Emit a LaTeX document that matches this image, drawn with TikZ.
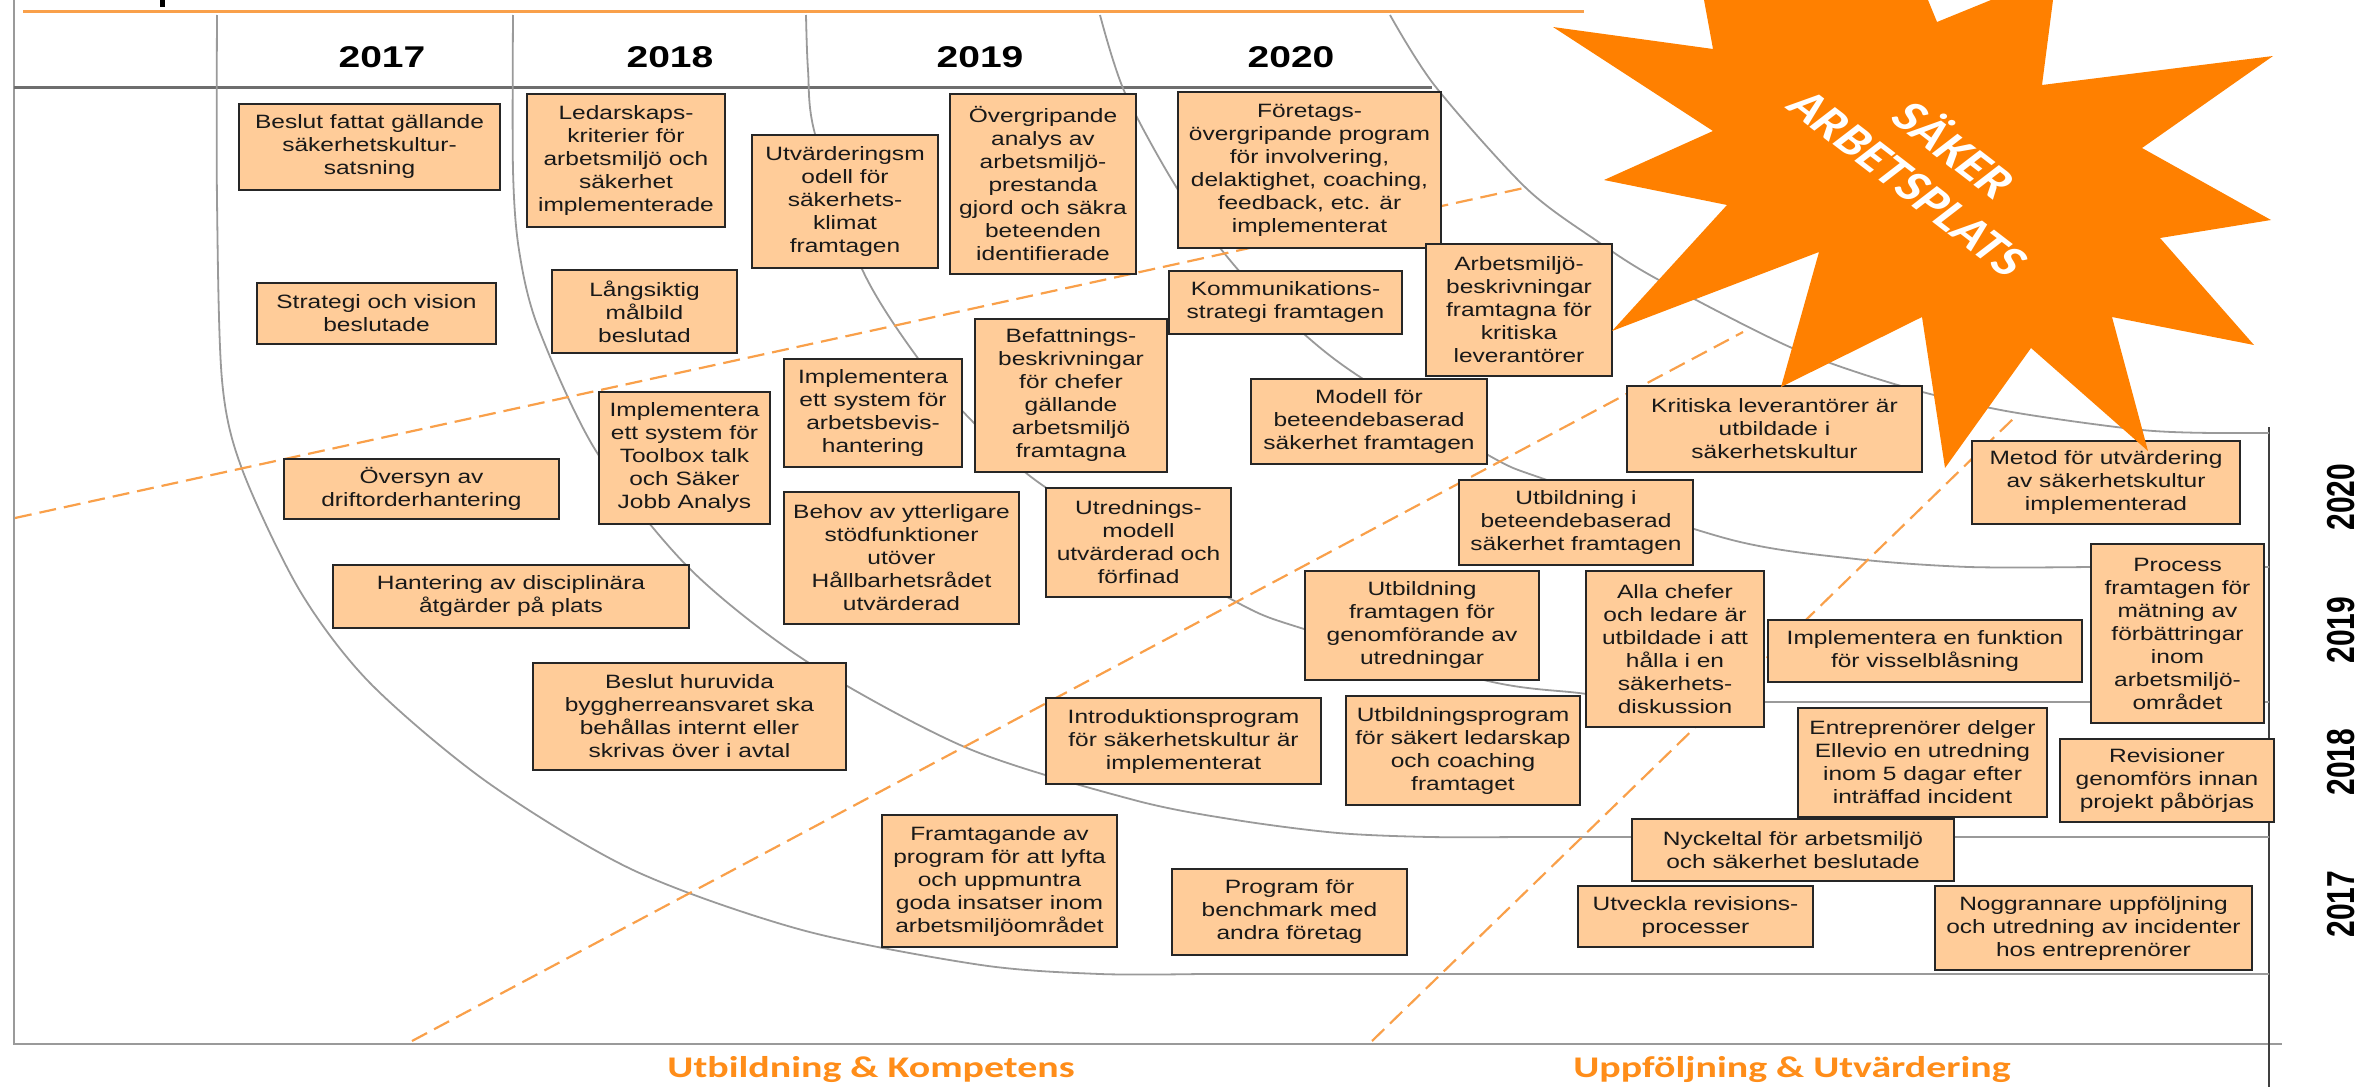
\documentclass[tikz,border=0pt]{standalone}
\usepackage{fontspec}
\setmainfont{Liberation Sans}
\newfontfamily\boxfont[FakeStretch=1.27]{Liberation Sans}
\newfontfamily\yearfont[FakeStretch=1.3]{Liberation Sans}
\newfontfamily\labfont[FakeStretch=1.33]{Carlito}
\newfontfamily\starfont{Carlito}
\definecolor{boxfill}{HTML}{FFCC99}
\definecolor{starorange}{HTML}{FF8000}
\definecolor{dashorange}{HTML}{F9A04A}
\definecolor{arcgrey}{HTML}{9A9A9A}
\definecolor{axisgrey}{HTML}{6E6E6E}
\tikzset{
  bx/.style={draw=black!85,fill=boxfill,line width=1.8pt,inner sep=0pt,align=center,text=black!90,
    font=\boxfont\fontsize{19.3}{23}\selectfont},
  arcline/.style={draw=arcgrey,line width=1.8pt},
  dashline/.style={draw=dashorange,line width=2.2pt,dash pattern=on 17pt off 8pt},
  yeartop/.style={font=\yearfont\bfseries\fontsize{30}{32}\selectfont,inner sep=0pt},
  yearside/.style={font=\bfseries\fontsize{30}{32}\selectfont,inner sep=0pt},
  bottomlab/.style={font=\labfont\bfseries\fontsize{30}{32}\selectfont,text=starorange!90!white,inner sep=0pt},
  startext/.style={font=\starfont\bfseries\fontsize{43}{45}\selectfont,text=white,inner sep=0pt},
}
\newcommand\bx[6]{\node[bx,minimum width={(#4-#2)*1pt},minimum height={(#5-#3)*1pt}] (#1) at ({(#2+#4)/2},{(#3+#5)/2}) {#6};}
\begin{document}
\begin{tikzpicture}[x=1pt,y=-1pt]
\useasboundingbox (0,0) rectangle (2358,1087);
% frame
\draw[draw=arcgrey,line width=2pt] (14,0) -- (14,1044) -- (2282,1044);
\draw[draw=black!75,line width=2pt] (2269,427) -- (2269,1087);
\draw[draw=axisgrey,line width=3pt] (14,87) -- (1432,87);
\draw[draw=dashorange,line width=3pt] (23,11) -- (1584,11);
\fill[black] (160,0) rectangle (165,7);
% arcs
\draw[arcline] plot[smooth] coordinates {(217,15) (217,200) (222,380) (242,469) (300,591) (370,683) (487,782) (633,870) (802,930) (981,965) (1100,974) (1200,974)} -- (2269,974);
\draw[arcline] plot[smooth] coordinates {(513,15) (513,170) (519,250) (538,327) (596,451) (689,568) (806,661) (967,748) (1134,800) (1236,820) (1338,833) (1430,837) (1520,837)} -- (2269,837);
\draw[arcline] plot[smooth] coordinates {(806,15) (808,70) (815,134) (862,269) (917,357) (973,422) (1045,487) (1229,598) (1304,629) (1488,681) (1579,693) (1660,702) (1740,702)} -- (2269,702);
\draw[arcline] plot[smooth] coordinates {(1100,15) (1125,93) (1180,193) (1240,272) (1304,334) (1360,377) (1488,455) (1544,479) (1732,540) (1856,559) (1969,567) (2089,567)} -- (2269,567);
\draw[arcline] plot[smooth] coordinates {(1390,15) (1435,86) (1526,188) (1597,241) (1657,279) (1792,348) (1901,386) (2006,411) (2142,430) (2220,433)} -- (2269,433);
% dashed
\draw[dashline] (15,518) -- (1524,188);
\draw[dashline] (412,1041) -- (1743,332);
\draw[dashline] (1372,1041) -- (2014,418);
% years
\node[yeartop] (y17) at (382,57) {2017};
\node[yeartop] (y18) at (670,57) {2018};
\node[yeartop] (y19) at (980,57) {2019};
\node[yeartop] (y20) at (1291,57) {2020};
\node[yearside] (s20) at (2341,497) {\scalebox{1.3}[1]{\rotatebox{90}{2020}}};
\node[yearside] (s19) at (2341,630) {\scalebox{1.3}[1]{\rotatebox{90}{2019}}};
\node[yearside] (s18) at (2341,762) {\scalebox{1.3}[1]{\rotatebox{90}{2018}}};
\node[yearside] (s17) at (2341,904) {\scalebox{1.3}[1]{\rotatebox{90}{2017}}};
\node[bottomlab] (l1) at (871,1070) {Utbildning \& Kompetens};
\node[bottomlab] (l2) at (1792,1070) {Uppföljning \& Utvärdering};
% boxes
\bx{b1}{239}{104}{500}{190}{Beslut fattat gällande\\säkerhetskultur-\\satsning}
\bx{b2}{257}{283}{496}{344}{Strategi och vision\\beslutade}
\bx{b3}{284}{459}{559}{519}{Översyn av\\driftorderhantering}
\bx{b4}{527}{94}{725}{227}{Ledarskaps-\\kriterier för\\arbetsmiljö och\\säkerhet\\implementerade}
\bx{b5}{552}{270}{737}{353}{Långsiktig\\målbild\\beslutad}
\bx{b6}{599}{392}{770}{524}{Implementera\\ett system för\\Toolbox talk\\och Säker\\Jobb Analys}
\bx{b7}{752}{135}{938}{268}{Utvärderingsm\\odell för\\säkerhets-\\klimat\\framtagen}
\bx{b8}{950}{94}{1136}{274}{Övergripande\\analys av\\arbetsmiljö-\\prestanda\\gjord och säkra\\beteenden\\identifierade}
\bx{b9}{784}{359}{962}{467}{Implementera\\ett system för\\arbetsbevis-\\hantering}
\bx{b10}{975}{319}{1167}{472}{Befattnings-\\beskrivningar\\för chefer\\gällande\\arbetsmiljö\\framtagna}
\bx{b11}{784}{492}{1019}{624}{Behov av ytterligare\\stödfunktioner\\utöver\\Hållbarhetsrådet\\utvärderad}
\bx{b12}{1046}{488}{1231}{597}{Utrednings-\\modell\\utvärderad och\\förfinad}
\bx{b13}{333}{565}{689}{628}{Hantering av disciplinära\\åtgärder på plats}
\bx{b14}{533}{663}{846}{770}{Beslut huruvida\\byggherreansvaret ska\\behållas internt eller\\skrivas över i avtal}
\bx{b15}{882}{815}{1117}{947}{Framtagande av\\program för att lyfta\\och uppmuntra\\goda insatser inom\\arbetsmiljöområdet}
\bx{b16}{1046}{698}{1321}{784}{Introduktionsprogram\\för säkerhetskultur är\\implementerat}
\bx{b17}{1172}{869}{1407}{955}{Program för\\benchmark med\\andra företag}
\bx{b18}{1178}{92}{1441}{248}{Företags-\\övergripande program\\för involvering,\\delaktighet, coaching,\\feedback, etc. är\\implementerat}
\bx{b19}{1169}{271}{1402}{334}{Kommunikations-\\strategi framtagen}
\bx{b20}{1426}{244}{1612}{376}{Arbetsmiljö-\\beskrivningar\\framtagna för\\kritiska\\leverantörer}
\bx{b21}{1251}{379}{1487}{464}{Modell för\\beteendebaserad\\säkerhet framtagen}
\bx{b22}{1627}{386}{1922}{472}{Kritiska leverantörer är\\utbildade i\\säkerhetskultur}
\bx{b23}{1972}{441}{2240}{524}{Metod för utvärdering\\av säkerhetskultur\\implementerad}
\bx{b24}{1459}{480}{1693}{565}{Utbildning i\\beteendebaserad\\säkerhet framtagen}
\bx{b25}{1305}{571}{1539}{680}{Utbildning\\framtagen för\\genomförande av\\utredningar}
\bx{b26}{1586}{571}{1764}{727}{Alla chefer\\och ledare är\\utbildade i att\\hålla i en\\säkerhets-\\diskussion}
\bx{b27}{1768}{620}{2082}{682}{Implementera en funktion\\för visselblåsning}
\bx{b28}{2091}{544}{2264}{723}{Process\\framtagen för\\mätning av\\förbättringar\\inom\\arbetsmiljö-\\området}
\bx{b29}{1346}{696}{1580}{805}{Utbildningsprogram\\för säkert ledarskap\\och coaching\\framtaget}
\bx{b30}{1798}{708}{2047}{817}{Entreprenörer delger\\Ellevio en utredning\\inom 5 dagar efter\\inträffad incident}
\bx{b31}{2060}{739}{2274}{822}{Revisioner\\genomförs innan\\projekt påbörjas}
\bx{b32}{1632}{819}{1954}{881}{Nyckeltal för arbetsmiljö\\och säkerhet beslutade}
\bx{b33}{1578}{886}{1813}{947}{Utveckla revisions-\\processer}
\bx{b34}{1935}{886}{2252}{970}{Noggrannare uppföljning\\och utredning av incidenter\\hos entreprenörer}
% star
\fill[starorange] (1704,0) -- (1928,0) -- (1937,22) -- (1991,0) -- (2053,0) -- (2042,85) -- (2273,56) -- (2142,148) -- (2271,220) -- (2160,238) -- (2254,345) -- (2112,317) -- (2148,451) -- (2031,348) -- (1945,468) -- (1922,317) -- (1781,387) -- (1819,252) -- (1612,331) -- (1727,205) -- (1604,180) -- (1713,131) -- (1553,27) -- (1713,49) -- cycle;
\node[startext] (st1) at (1957,148) {\scalebox{1.3}[1]{\rotatebox{-45}{SÄKER}}};
\node[startext] (st2) at (1908,183) {\scalebox{1.3}[1]{\rotatebox{-45}{ARBETSPLATS}}};
\end{tikzpicture}
\end{document}
